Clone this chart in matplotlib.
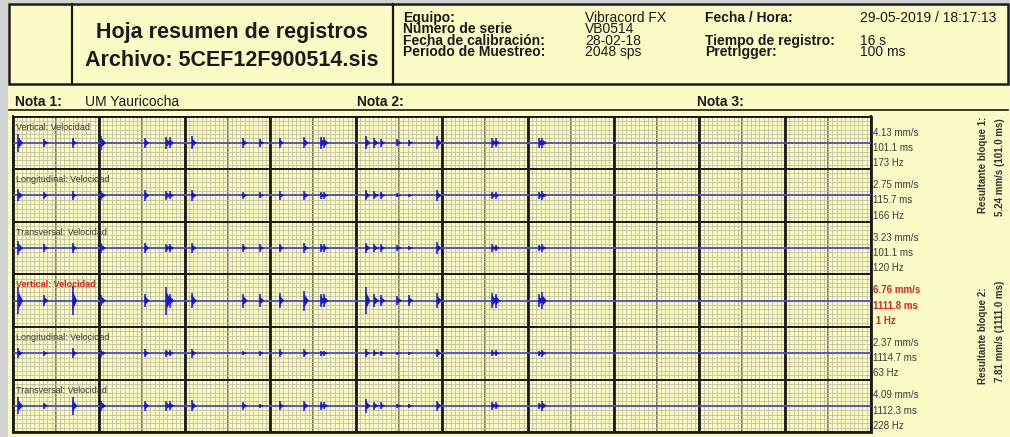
import numpy as np
import matplotlib.pyplot as plt
from matplotlib.patches import Rectangle

plt.rcParams["font.family"] = ["Liberation Sans", "DejaVu Sans"]

W, H = 1010, 437

# event onsets in seconds, shared by the six channels
event_times = [0.10, 0.58, 1.11, 1.65, 2.46, 2.86, 2.92, 3.34, 4.29, 4.60, 4.97, 5.43,
               5.74, 5.80, 6.58, 6.74, 6.86, 7.17, 7.38, 7.91, 8.94, 9.00, 9.81, 9.87]

# peak velocity of each event (mm/s), one list per channel
amp_vert_1 = [4.13, 1.8, 2.3, 3.2, 2.3, 2.8, 2.5, 3.0, 2.2, 1.8, 2.2, 2.6,
              2.8, 2.6, 3.0, 2.2, 1.8, 1.6, 1.4, 3.0, 2.2, 2.0, 2.4, 2.2]
amp_long_1 = [2.75, 1.6, 1.9, 2.2, 2.5, 2.0, 1.8, 2.4, 1.6, 1.4, 1.9, 2.1,
              1.6, 1.5, 2.3, 1.8, 1.6, 0.9, 0.8, 2.4, 1.6, 1.5, 1.5, 1.9]
amp_tran_1 = [3.23, 1.6, 2.4, 2.2, 2.4, 2.0, 1.9, 2.3, 1.8, 1.6, 2.0, 2.1,
              1.9, 1.7, 2.4, 1.8, 1.7, 1.2, 1.0, 2.6, 1.7, 1.5, 1.5, 1.6]
amp_vert_2 = [6.2, 2.4, 6.76, 2.6, 3.0, 6.4, 3.2, 3.6, 3.2, 2.8, 3.6, 4.6,
              3.0, 2.8, 6.0, 2.8, 2.6, 2.2, 2.4, 3.6, 3.6, 3.2, 2.8, 3.8]
amp_long_2 = [2.2, 1.2, 2.37, 1.6, 1.8, 1.6, 1.5, 2.0, 1.0, 1.2, 1.8, 1.8,
              1.2, 1.2, 1.8, 1.3, 1.2, 0.7, 0.7, 1.9, 1.3, 1.3, 1.2, 1.6]
amp_tran_2 = [3.8, 1.5, 4.09, 2.4, 2.3, 2.2, 2.1, 2.6, 1.8, 1.0, 2.0, 2.2,
              1.8, 1.6, 3.2, 1.8, 1.6, 1.0, 1.0, 2.4, 1.8, 1.6, 1.5, 2.2]

channel_amps = [amp_vert_1, amp_long_1, amp_tran_1, amp_vert_2, amp_long_2, amp_tran_2]
channel_names = ["Vertical: Velocidad", "Longitudinal: Velocidad", "Transversal: Velocidad"] * 2
peak_velocity = [4.13, 2.75, 3.23, 6.76, 2.37, 4.09]
peak_time_ms = [101.1, 115.7, 101.1, 1111.8, 1114.7, 1112.3]
peak_freq_hz = [173, 166, 120, 1, 63, 228]
highlight = [False, False, False, True, False, False]

block_resultant = [5.24, 7.81]
block_time_ms = [101.0, 1111.0]

equip_labels = ["Equipo:", "Número de serie", "Fecha de calibración:", "Periodo de Muestreo:"]
equip_values = ["Vibracord FX", "VB0514", "28-02-18", "2048 sps"]
record_labels = ["Fecha / Hora:", "", "Tiempo de registro:", "Pretrigger:"]
record_values = ["29-05-2019 / 18:17:13", "", "16 s", "100 ms"]
note_labels = ["Nota 1:", "Nota 2:", "Nota 3:"]
note_values = ["UM Yauricocha", "", ""]

record_len = 16.0
paper = "#fbfbc6"
ink = "#1a1a1a"
trace = "#1414d6"
red = "#e5241c"

fig = plt.figure(figsize=(W / 100, H / 100), dpi=100)
fig.patch.set_facecolor("#d2d2d2")

# page layer in pixel units, y pointing down
page = fig.add_axes([0, 0, 1, 1], zorder=0)
page.set_xlim(0, W)
page.set_ylim(H, 0)
page.axis("off")
page.add_patch(Rectangle((8, 3), W - 8, H - 3, facecolor=paper, edgecolor="none"))

# header box
page.add_patch(Rectangle((9, 4), 999, 80, facecolor="none", edgecolor=ink, lw=1.8))
page.plot([72, 72], [4, 84], color=ink, lw=1.6)
page.plot([393, 393], [4, 84], color=ink, lw=1.6)
page.plot([9, 1008], [109.5, 109.5], color=ink, lw=1.2)

page.text(232, 38, "Hoja resumen de registros", ha="center", va="baseline",
          fontsize=15.5, fontweight="bold", color=ink)
page.text(232, 66, "Archivo: 5CEF12F900514.sis", ha="center", va="baseline",
          fontsize=15.5, fontweight="bold", color=ink)

hdr = dict(fontsize=10, color=ink, va="top", linespacing=0.76)
page.text(403, 11, "\n".join(equip_labels), fontweight="bold", **hdr)
page.text(585, 11, "\n".join(equip_values), **hdr)
page.text(705, 11, "\n".join(record_labels), fontweight="bold", **hdr)
page.text(860, 11, "\n".join(record_values), **hdr)

for lab, val, xn in zip(note_labels, note_values, [15, 357, 697]):
    page.text(xn, 106, lab, fontsize=10, fontweight="bold", color=ink, va="baseline")
    page.text(xn + 70, 106, val, fontsize=10, color=ink, va="baseline")

# chart area
x0, x1 = 13, 871
top, row_h = 116.5, 52.6
minor_x = np.arange(0, record_len + 1e-6, 0.08)
div_x = np.arange(0, record_len + 1e-6, 0.8)
thick_x = np.arange(0, record_len + 1e-6, 1.6)

for i, amps in enumerate(channel_amps):
    y_top = top + i * row_h
    ax = fig.add_axes([x0 / W, 1 - (y_top + row_h) / H, (x1 - x0) / W, row_h / H], zorder=2)
    ax.set_facecolor(paper)
    ax.set_xlim(0, record_len)
    ax.set_ylim(-12, 12)
    ax.set_xticks(minor_x, minor=True)
    ax.set_yticks(np.arange(-12, 12.1, 2), minor=True)
    ax.set_xticks([])
    ax.set_yticks([])
    ax.grid(which="minor", color="#bcbc9a", lw=0.55)
    ax.tick_params(which="both", length=0)
    for xv in div_x:
        ax.axvline(xv, color="#5a5a44", lw=1.1, zorder=1.5)
    for xv in thick_x:
        ax.axvline(xv, color=ink, lw=2.0, zorder=1.6)
    for sp in ax.spines.values():
        sp.set_color(ink)
        sp.set_linewidth(1.4)

    ax.axhline(0, color="#4b4bcc", lw=1.3, zorder=3)
    for t, a in zip(event_times, amps):
        ax.vlines(t, -a, a, color=trace, lw=1.1, zorder=4)
        ax.fill([t, t, t + 0.085], [0.65 * a, -0.65 * a, 0], color=trace, lw=0, zorder=4)

    lab_col = red if highlight[i] else "#3a3a3a"
    ax.text(0.004, 0.8, channel_names[i], transform=ax.transAxes, fontsize=6.5,
            color=lab_col, fontweight="bold" if highlight[i] else "normal", va="center")

    weight = "bold" if highlight[i] else "normal"
    freq = f" {peak_freq_hz[i]} Hz" if peak_freq_hz[i] < 10 else f"{peak_freq_hz[i]} Hz"
    for k, s in enumerate([f"{peak_velocity[i]:.2f} mm/s", f"{peak_time_ms[i]:.1f} ms", freq]):
        page.text(873, y_top + 16 + k * 15.3, s, fontsize=7, color=lab_col,
                  fontweight=weight, va="center")

# chart frame
page.add_patch(Rectangle((x0, top), x1 - x0, 6 * row_h, facecolor="none",
                         edgecolor=ink, lw=2.0, zorder=5))

# resultant per block
for b, (yc1, yc2) in enumerate([(165, 167), (336, 331)]):
    page.text(983, yc1, f"Resultante bloque {b + 1}:", rotation=90, ha="center",
              va="center", fontsize=7, fontweight="bold", color="#303030")
    page.text(1000, yc2, f"{block_resultant[b]:.2f} mm/s ({block_time_ms[b]:.1f} ms)",
              rotation=90, ha="center", va="center", fontsize=7, fontweight="bold",
              color="#303030")

fig.savefig("out.png", dpi=100, facecolor=fig.get_facecolor())
